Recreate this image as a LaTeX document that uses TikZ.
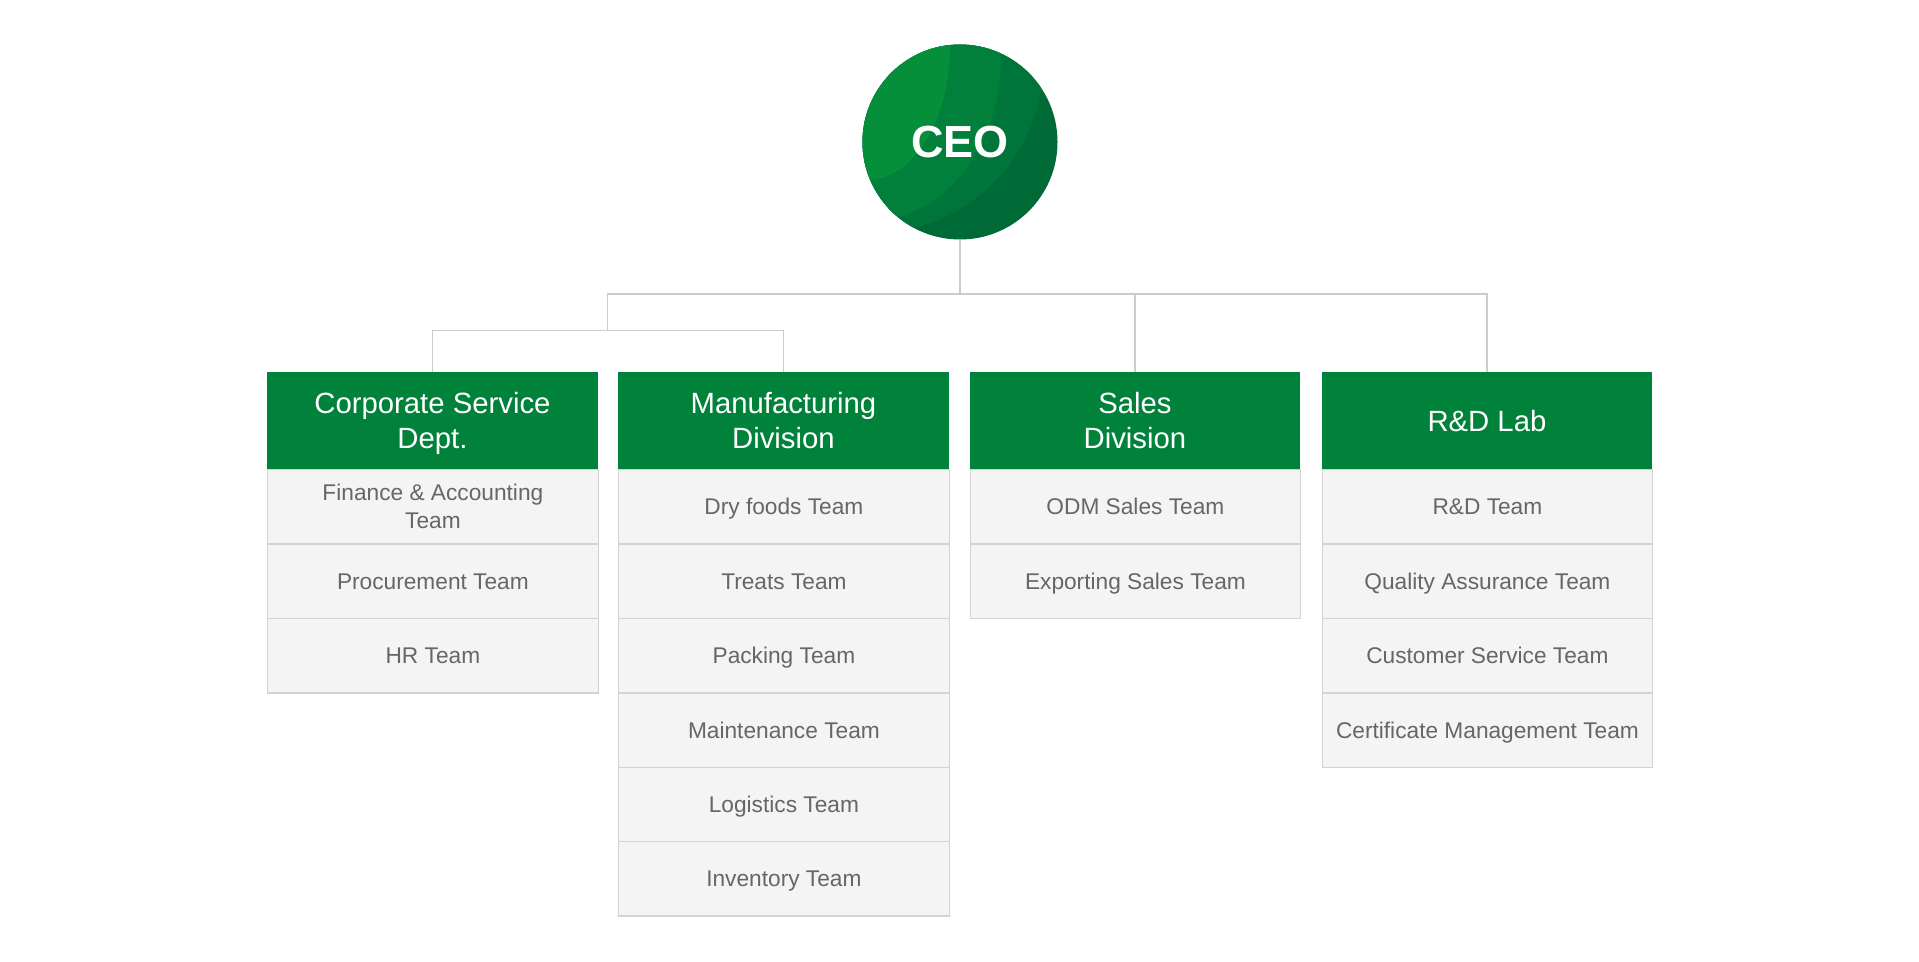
\documentclass[tikz,border=0pt]{standalone}
\usepackage{fontspec}
\setmainfont{Liberation Sans}
\definecolor{hdr}{HTML}{00823B}
\definecolor{rowbg}{HTML}{F4F4F4}
\definecolor{rowline}{HTML}{D3D3D3}
\definecolor{rowtext}{HTML}{666666}
\definecolor{linegray}{HTML}{CCCCCC}
\definecolor{gA}{HTML}{068F3A}
\definecolor{gB}{HTML}{01803C}
\definecolor{gC}{HTML}{00753A}
\definecolor{gD}{HTML}{006A36}
\newcommand\rs{\rule[-6pt]{0pt}{28pt}}
\newcommand\hs{\rule[-6pt]{0pt}{33pt}}
\begin{document}
\begin{tikzpicture}[x=1pt,y=-1pt,
  hdrbox/.style={anchor=north west, minimum width=330.5pt, minimum height=96.7pt, inner sep=0pt, fill=hdr, text=white, font=\fontsize{29.3}{34.3}\selectfont, align=center},
  rowbox/.style={anchor=north west, minimum width=330.5pt, minimum height=74.4pt, inner sep=0pt, fill=rowbg, draw=rowline, line width=1.3pt, text=rowtext, font=\fontsize{22.7}{28}\selectfont, align=center},
  link/.style={draw=linegray, line width=1.3pt}]
\useasboundingbox[fill=white] (0,0) rectangle (1919,961);

% CEO circle with bands
\begin{scope}
  \clip (960,142) circle (97.5);
  \fill[gD] (850,30) rectangle (1070,250);
  \fill[gC] (873,63) ellipse (170 and 170);
  \fill[gB] (873,57) ellipse (128 and 163);
  \fill[gA] (867,47) ellipse (83 and 133);
\end{scope}
\node[circle, minimum size=195pt, inner sep=0pt, text=white, font=\bfseries\fontsize{45}{45}\selectfont] (ceo) at (960,142) {CEO};

% rows
\foreach \t [count=\i] in {{\rs Finance \& Accounting\\Team\rs}, {\rs Procurement Team\rs}, {\rs HR Team\rs}}
  \node[rowbox] (c\i) at (267, {469+(\i-1)*74.4}) {\t};
\foreach \t [count=\i] in {{Dry foods Team}, {Treats Team}, {Packing Team}, {Maintenance Team}, {Logistics Team}, {Inventory Team}}
  \node[rowbox] (m\i) at (618, {469+(\i-1)*74.4}) {\rs\t\rs};
\foreach \t [count=\i] in {{ODM Sales Team}, {Exporting Sales Team}}
  \node[rowbox] (s\i) at (969.5, {469+(\i-1)*74.4}) {\rs\t\rs};
\foreach \t [count=\i] in {{R\&D Team}, {Quality Assurance Team}, {Customer Service Team}, {Certificate Management Team}}
  \node[rowbox] (r\i) at (1321.5, {469+(\i-1)*74.4}) {\rs\t\rs};

% headers
\node[hdrbox] (csh) at (267,372) {\hs Corporate Service\\Dept.\hs};
\node[hdrbox] (mh) at (618,372) {\hs Manufacturing\\Division\hs};
\node[hdrbox] (sh) at (969.5,372) {\hs Sales\\Division\hs};
\node[hdrbox] (rdh) at (1321.5,372) {\hs R\&D Lab\hs};

% connectors
\coordinate (bus) at (960,294);
\coordinate (bus2) at (607.7,330.5);
\draw[link] (ceo.south) -- (bus);
\draw[link] (bus) -| (rdh.north);
\draw[link] (bus) -| (sh.north);
\draw[link] (bus) -| (bus2);
\draw[link] (bus2) -| (csh.north);
\draw[link] (bus2) -| (mh.north);
\end{tikzpicture}
\end{document}
